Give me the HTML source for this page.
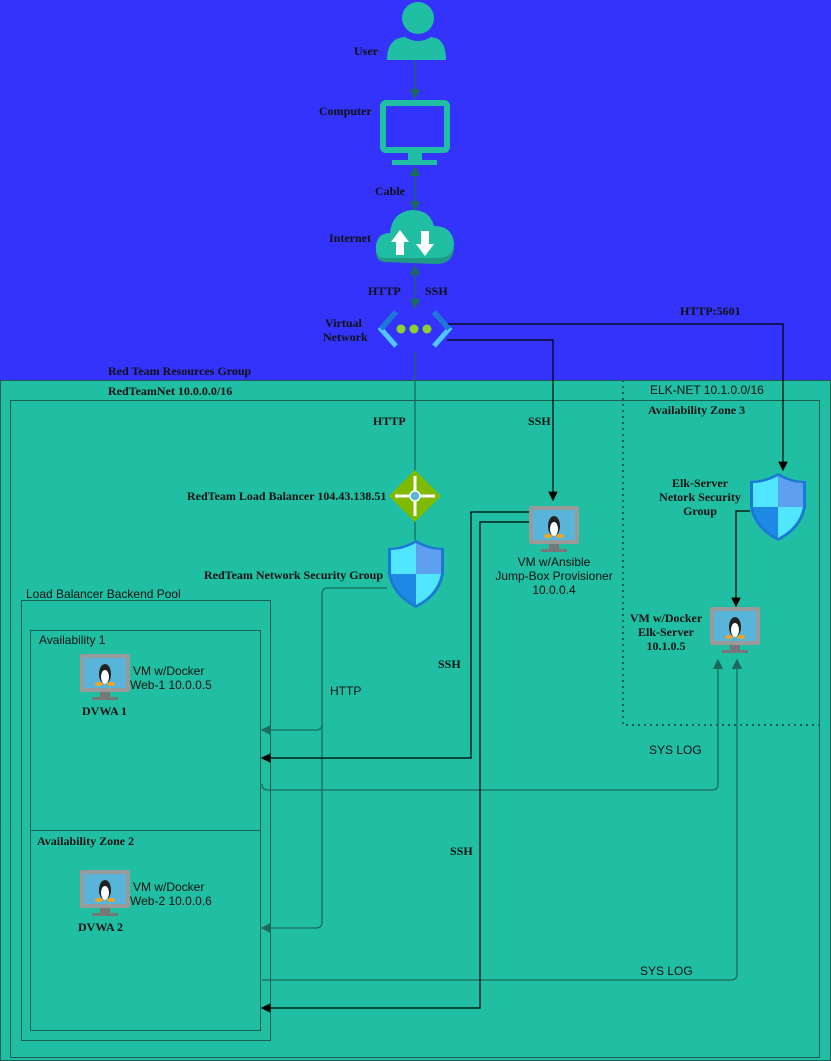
<!DOCTYPE html>
<html><head><meta charset="utf-8"><style>
body{margin:0;width:831px;height:1061px;overflow:hidden;background:#20bea3}
svg{display:block}
.s{font-family:"Liberation Serif",serif;font-weight:bold;font-size:12px;fill:#111}
.a{font-family:"Liberation Sans",sans-serif;font-size:12px;fill:#111}
</style></head><body>
<svg width="831" height="1061" viewBox="0 0 831 1061">
<defs>
<marker id="ag" markerWidth="8" markerHeight="8" refX="7" refY="4" orient="auto-start-reverse"><path d="M0,0L8,4L0,8Z" fill="#1b6b5c"/></marker>
<marker id="ak" markerWidth="8" markerHeight="8" refX="7" refY="4" orient="auto-start-reverse"><path d="M0,0L8,4L0,8Z" fill="#000"/></marker>
<g id="vm"><rect x="0" y="0" width="50" height="38" rx="2" fill="#9a9a9a"/><rect x="4" y="4" width="42" height="30" fill="#59b4d9"/><rect x="20" y="38" width="10" height="5" fill="#777"/><rect x="12" y="43" width="26" height="3" fill="#777"/><ellipse cx="25" cy="20" rx="6" ry="10" fill="#222"/><ellipse cx="25" cy="23" rx="4" ry="7" fill="#fff"/><ellipse cx="19" cy="30" rx="4" ry="2" fill="#f5a623"/><ellipse cx="31" cy="30" rx="4" ry="2" fill="#f5a623"/></g>
<g id="shield"><path d="M0,8 Q14,8 28,0 Q42,8 56,8 L56,34 Q52,56 28,68 Q4,56 0,34Z" fill="#1b79d6"/><path d="M3,10 Q15,10 28,3 L28,34 L3,34Z" fill="#50e6ff"/><path d="M28,3 Q41,10 53,10 L53,34 L28,34Z" fill="#5ea0ef"/><path d="M3,34 L28,34 L28,65 Q7,54 3,34Z" fill="#1e88e5"/><path d="M28,34 L53,34 Q49,54 28,65Z" fill="#50e6ff"/></g>
</defs>
<rect x="0" y="0" width="831" height="380" fill="#3333fc"/>
<rect x="0.5" y="380.5" width="830" height="680" fill="#20bea3" stroke="#1b5e52"/>
<rect x="10.5" y="400.5" width="809" height="657" fill="none" stroke="#1b5e52"/>
<rect x="21.5" y="600.5" width="249" height="440" fill="none" stroke="#1b5e52"/>
<rect x="30.5" y="630.5" width="230" height="200" fill="none" stroke="#1b5e52"/>
<rect x="30.5" y="830.5" width="230" height="200" fill="none" stroke="#1b5e52"/>
<path d="M623,380V725H820" fill="none" stroke="#1b5e52" stroke-width="2" stroke-dasharray="2,4"/>

<text class="s" x="108" y="375">Red Team Resources Group</text>
<text class="s" x="108" y="395">RedTeamNet 10.0.0.0/16</text>
<text class="a" x="650" y="394">ELK-NET 10.1.0.0/16</text>
<text class="s" x="648" y="414">Availability Zone 3</text>
<text class="a" x="26" y="598">Load Balancer Backend Pool</text>
<text class="a" x="39" y="644">Availability 1</text>
<text class="s" x="37" y="845">Availability Zone 2</text>

<!-- connectors -->
<g fill="none" stroke="#1b6b5c" stroke-width="1.3">
<path d="M415,60V98" marker-end="url(#ag)"/>
<path d="M415,167V210" marker-start="url(#ag)" marker-end="url(#ag)"/>
<path d="M415,266V308" marker-start="url(#ag)" marker-end="url(#ag)"/>
<path d="M415,352V472"/>
<path d="M415,520V540"/>
<path d="M387,588H328Q322,588 322,594V724Q322,730 316,730H262" marker-end="url(#ag)"/>
<path d="M322,724V922Q322,928 316,928H262" marker-end="url(#ag)"/>
<path d="M262,784Q262,790 268,790H712Q718,790 718,784V660" marker-end="url(#ag)"/>
<path d="M262,980H731Q737,980 737,974V660" marker-end="url(#ag)"/>
</g>
<g fill="none" stroke="#000" stroke-width="1.2">
<path d="M447,324H783V470" marker-end="url(#ak)"/>
<path d="M447,340H553V500" marker-end="url(#ak)"/>
<path d="M530,512H471V758H262" marker-end="url(#ak)"/>
<path d="M530,522H480V1008H262" marker-end="url(#ak)"/>
<path d="M750,511H736V606" marker-end="url(#ak)"/>
</g>

<!-- top icons -->
<g><circle cx="418" cy="18" r="16" fill="#20bea3"/><path d="M387,60Q387,38 405,37Q418,45 431,37Q446,38 446,60Z" fill="#20bea3"/></g>
<text class="s" x="354" y="55">User</text>
<g><rect x="383" y="103" width="64" height="47" rx="3" fill="none" stroke="#20bea3" stroke-width="6"/><rect x="408" y="152" width="14" height="9" fill="#20bea3"/><rect x="392" y="160" width="45" height="5" fill="#20bea3"/></g>
<text class="s" x="319" y="115">Computer</text>
<text class="s" x="375" y="195">Cable</text>
<g><path d="M385,262Q375,262 376,248Q378,236 390,236Q392,214 412,212Q430,212 434,228Q452,228 454,246Q454,264 436,264Z" fill="#1e9a85"/><path d="M385,258Q375,258 376,245Q378,233 390,233Q392,212 412,210Q430,210 434,226Q452,226 454,243Q454,258 436,258Z" fill="#20bea3"/><path d="M400,230L391,242H396V255H404V242H409Z" fill="#fff"/><path d="M425,256L434,244H429V231H421V244H416Z" fill="#fff"/></g>
<text class="s" x="329" y="242">Internet</text>
<text class="s" x="368" y="295">HTTP</text>
<text class="s" x="425" y="295">SSH</text>
<g><path d="M396,312L381,329L396,346" fill="none" stroke="#50c8ff" stroke-width="5"/><path d="M434,312L449,329L434,346" fill="none" stroke="#50c8ff" stroke-width="5"/><path d="M396,312L381,329M434,312L449,329" stroke="#1b79d6" stroke-width="5"/><circle cx="401" cy="329" r="4.5" fill="#8bd12e"/><circle cx="414" cy="329" r="4.5" fill="#8bd12e"/><circle cx="427" cy="329" r="4.5" fill="#8bd12e"/></g>
<text class="s" x="325" y="327">Virtual</text>
<text class="s" x="323" y="341">Network</text>
<text class="s" x="680" y="315">HTTP:5601</text>
<text class="s" x="373" y="425">HTTP</text>
<text class="s" x="528" y="425">SSH</text>

<g><path d="M415,470L441,496L415,522L389,496Z" fill="#7fba00"/><path d="M415,476V516M395,496H435" stroke="#fff" stroke-width="3"/><circle cx="415" cy="496" r="5" fill="#59b4d9" stroke="#fff" stroke-width="1.5"/></g>
<text class="s" x="187" y="500">RedTeam Load Balancer 104.43.138.51</text>
<use href="#shield" x="388" y="540"/>
<text class="s" x="204" y="579">RedTeam Network Security Group</text>

<use href="#vm" x="529" y="506"/>
<text class="a" x="554" y="566" text-anchor="middle">VM w/Ansible</text>
<text class="a" x="554" y="580" text-anchor="middle">Jump-Box Provisioner</text>
<text class="a" x="554" y="594" text-anchor="middle">10.0.0.4</text>

<use href="#shield" x="750" y="473"/>
<text class="s" x="700" y="487" text-anchor="middle">Elk-Server</text>
<text class="s" x="700" y="501" text-anchor="middle">Netork Security</text>
<text class="s" x="700" y="515" text-anchor="middle">Group</text>
<use href="#vm" x="710" y="607"/>
<text class="s" x="666" y="622" text-anchor="middle">VM w/Docker</text>
<text class="s" x="666" y="636" text-anchor="middle">Elk-Server</text>
<text class="s" x="666" y="650" text-anchor="middle">10.1.0.5</text>

<use href="#vm" x="80" y="654"/>
<text class="a" x="133" y="675">VM w/Docker</text>
<text class="a" x="130" y="689">Web-1 10.0.0.5</text>
<text class="s" x="82" y="715">DVWA 1</text>
<use href="#vm" x="80" y="870"/>
<text class="a" x="133" y="891">VM w/Docker</text>
<text class="a" x="130" y="905">Web-2 10.0.0.6</text>
<text class="s" x="78" y="931">DVWA 2</text>

<text class="a" x="330" y="695">HTTP</text>
<text class="s" x="438" y="668">SSH</text>
<text class="s" x="450" y="855">SSH</text>
<text class="a" x="649" y="754">SYS LOG</text>
<text class="a" x="640" y="975">SYS LOG</text>
</svg>
</body></html>
